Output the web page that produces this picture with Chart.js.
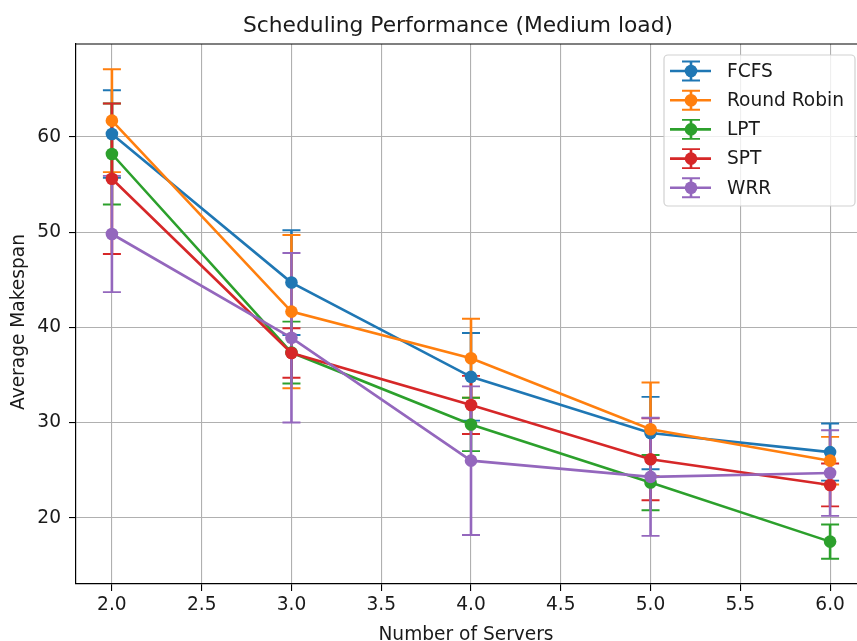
<!DOCTYPE html>
<html>
<head>
<meta charset="utf-8">
<script src="https://cdn.jsdelivr.net/npm/chart.js@4.4.1/dist/chart.umd.min.js"></script>
<style>
  html, body { margin: 0; padding: 0; background: #fff; overflow: hidden; }
  #wrap { width: 857px; height: 641px; overflow: hidden; position: relative; }
  canvas { display: block; }
</style>
</head>
<body>
<div id="wrap"><canvas id="c" width="900" height="641"></canvas></div>
<script>
// ---- data ----
const servers = [2, 3, 4, 5, 6];
const seriesNames = ['FCFS', 'Round Robin', 'LPT', 'SPT', 'WRR'];
const seriesColors = ['#1f77b4', '#ff7f0e', '#2ca02c', '#d62728', '#9467bd'];
const fcfsMean = [60.3, 44.7, 34.8, 28.9, 26.9];
const fcfsErr  = [4.6, 5.5, 4.6, 3.8, 3.0];
const rrMean   = [61.7, 41.65, 36.75, 29.3, 26.0];
const rrErr    = [5.4, 8.05, 4.15, 4.9, 2.5];
const lptMean  = [58.2, 37.35, 29.8, 23.7, 17.5];
const lptErr   = [5.3, 3.25, 2.8, 2.9, 1.8];
const sptMean  = [55.6, 37.3, 31.85, 26.15, 23.45];
const sptErr   = [7.9, 2.6, 3.05, 4.3, 2.25];
const wrrMean  = [49.8, 38.9, 26.0, 24.3, 24.7];
const wrrErr   = [6.1, 8.9, 7.8, 6.2, 4.5];
const xTicks = [2.0, 2.5, 3.0, 3.5, 4.0, 4.5, 5.0, 5.5, 6.0];
const xTickLabels = ['2.0', '2.5', '3.0', '3.5', '4.0', '4.5', '5.0', '5.5', '6.0'];
const yTicks = [20, 30, 40, 50, 60];
const yTickLabels = ['20', '30', '40', '50', '60'];
const titleText = 'Scheduling Performance (Medium load)';
const xLabel = 'Number of Servers';
const yLabel = 'Average Makespan';

const means = [fcfsMean, rrMean, lptMean, sptMean, wrrMean];
const errs = [fcfsErr, rrErr, lptErr, sptErr, wrrErr];

const FONT = "'DejaVu Sans', 'Liberation Sans', sans-serif";
const TXT = '#1a1a1a';
const LW = 2.6;
const CAP = 9;
const MR = 6.3;

const datasets = seriesNames.map((name, i) => ({
  label: name,
  data: servers.map((s, j) => ({ x: s, y: means[i][j] })),
  borderColor: seriesColors[i],
  backgroundColor: seriesColors[i],
  borderWidth: LW,
  pointRadius: MR,
  pointBorderWidth: 0,
  pointBackgroundColor: seriesColors[i],
  pointHoverRadius: MR,
  tension: 0,
  fill: false,
  order: seriesNames.length - i,
  errs: errs[i]
}));

const errorBarPlugin = {
  id: 'errorBars',
  beforeDatasetsDraw(chart) {
    const ctx = chart.ctx;
    const xs = chart.scales.x, ys = chart.scales.y;
    ctx.save();
    chart.data.datasets.forEach((ds) => {
      ctx.strokeStyle = ds.borderColor;
      ds.data.forEach((p, j) => {
        const e = ds.errs[j];
        const px = xs.getPixelForValue(p.x);
        const yt = ys.getPixelForValue(p.y + e);
        const yb = ys.getPixelForValue(p.y - e);
        ctx.lineWidth = LW;
        ctx.beginPath();
        ctx.moveTo(px, yt); ctx.lineTo(px, yb);
        ctx.stroke();
        ctx.lineWidth = 1.9;
        ctx.beginPath();
        ctx.moveTo(px - CAP, yt); ctx.lineTo(px + CAP, yt);
        ctx.moveTo(px - CAP, yb); ctx.lineTo(px + CAP, yb);
        ctx.stroke();
      });
    });
    ctx.restore();
  }
};

const decorPlugin = {
  id: 'decor',
  afterDraw(chart) {
    const ctx = chart.ctx;
    const a = chart.chartArea;
    ctx.save();
    // top and right frame lines
    ctx.strokeStyle = '#000';
    ctx.lineWidth = 1.2;
    ctx.beginPath();
    ctx.moveTo(a.left, a.top); ctx.lineTo(a.right, a.top);
    ctx.moveTo(a.right, a.top); ctx.lineTo(a.right, a.bottom);
    ctx.stroke();

    // title
    ctx.fillStyle = TXT;
    ctx.font = '21.8px ' + FONT;
    ctx.textAlign = 'center';
    ctx.textBaseline = 'alphabetic';
    ctx.fillText(titleText, 458, 32);

    // axis labels
    ctx.font = '18.6px ' + FONT;
    ctx.fillText(xLabel, 466, 640);
    ctx.save();
    ctx.translate(24, 322);
    ctx.rotate(-Math.PI / 2);
    ctx.textBaseline = 'alphabetic';
    ctx.fillText(yLabel, 0, 0);
    ctx.restore();

    // legend
    const lx = 664, ly = 55, lw = 191, lh = 151;
    ctx.fillStyle = 'rgba(255,255,255,0.8)';
    ctx.strokeStyle = 'rgba(204,204,204,0.9)';
    ctx.lineWidth = 1.2;
    ctx.beginPath();
    ctx.roundRect(lx, ly, lw, lh, 4);
    ctx.fill(); ctx.stroke();
    chart.data.datasets.forEach((ds, i) => {
      const cy = 71 + i * 29.2;
      const mx = 691;
      ctx.strokeStyle = ds.borderColor;
      ctx.lineWidth = LW;
      ctx.beginPath();
      ctx.moveTo(670, cy); ctx.lineTo(711, cy);
      ctx.moveTo(mx, cy - 9.5); ctx.lineTo(mx, cy + 9.5);
      ctx.stroke();
      ctx.lineWidth = 1.9;
      ctx.beginPath();
      ctx.moveTo(mx - CAP, cy - 9.5); ctx.lineTo(mx + CAP, cy - 9.5);
      ctx.moveTo(mx - CAP, cy + 9.5); ctx.lineTo(mx + CAP, cy + 9.5);
      ctx.stroke();
      ctx.fillStyle = ds.borderColor;
      ctx.beginPath();
      ctx.arc(mx, cy, MR, 0, Math.PI * 2);
      ctx.fill();
      ctx.fillStyle = TXT;
      ctx.font = '18.6px ' + FONT;
      ctx.textAlign = 'left';
      ctx.textBaseline = 'middle';
      ctx.fillText(ds.label, 727, cy + 1);
    });
    ctx.restore();
  }
};

new Chart(document.getElementById('c'), {
  type: 'line',
  data: { datasets },
  options: {
    responsive: false,
    animation: false,
    events: [],
    layout: { padding: { left: 0, top: 44, right: 34, bottom: 0 } },
    plugins: {
      legend: { display: false },
      title: { display: false },
      tooltip: { enabled: false }
    },
    scales: {
      x: {
        type: 'linear',
        min: 1.8,
        max: 6.2,
        afterBuildTicks(scale) { scale.ticks = xTicks.map(v => ({ value: v })); },
        afterFit(scale) { scale.height = 57; },
        ticks: {
          color: TXT,
          font: { family: FONT, size: 18.6 },
          padding: 3,
          maxRotation: 0,
          autoSkip: false,
          callback: (v) => { const k = xTicks.indexOf(v); return k >= 0 ? xTickLabels[k] : ''; }
        },
        grid: { color: '#b0b0b0', lineWidth: 1.1, tickColor: '#000', tickLength: 7, drawTicks: true },
        border: { color: '#000', width: 1.2 }
      },
      y: {
        type: 'linear',
        min: 13.05,
        max: 69.75,
        afterBuildTicks(scale) { scale.ticks = yTicks.map(v => ({ value: v })); },
        afterFit(scale) { scale.width = 76; },
        ticks: {
          color: TXT,
          font: { family: FONT, size: 18.6 },
          padding: 8,
          autoSkip: false,
          callback: (v) => { const k = yTicks.indexOf(v); return k >= 0 ? yTickLabels[k] : ''; }
        },
        grid: { color: '#b0b0b0', lineWidth: 1.1, tickColor: '#000', tickLength: 7, drawTicks: true },
        border: { color: '#000', width: 1.2 }
      }
    }
  },
  plugins: [errorBarPlugin, decorPlugin]
});
</script>
</body>
</html>
